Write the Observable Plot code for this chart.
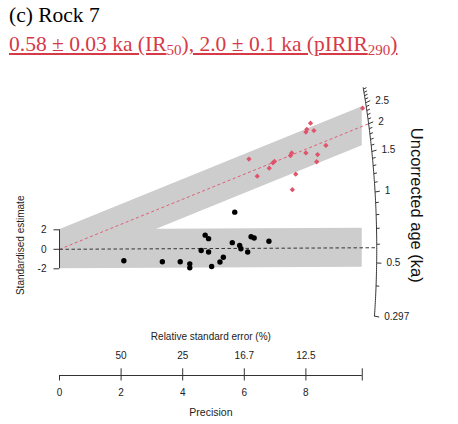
<!DOCTYPE html>
<html><head><meta charset="utf-8">
<script src="https://cdn.jsdelivr.net/npm/d3@7"></script>
<script src="https://cdn.jsdelivr.net/npm/@observablehq/plot@0.6"></script>
<style>
body{margin:0;background:#fff;width:458px;height:424px;overflow:hidden;position:relative}
#t1{position:absolute;left:9px;top:5px;font:21.5px "Liberation Serif","Times New Roman",serif;line-height:1;color:#000;white-space:nowrap}
#t2{position:absolute;left:9px;top:34px;font:21.5px "Liberation Serif","Times New Roman",serif;line-height:1;color:#d63a48;text-decoration:underline;white-space:nowrap}
#t2 sub{font-size:70%;vertical-align:-0.28em;line-height:0}
#chart{position:absolute;left:0;top:60px}
</style></head><body>
<div id="t1">(c) Rock 7</div>
<div id="t2">0.58 ± 0.03 ka (IR<sub>50</sub>), 2.0 ± 0.1 ka (pIRIR<sub>290</sub>)</div>
<div id="chart"></div>
<script>
// ---- data ----
const precisionIR50 = [2.09,3.34,3.92,4.23,4.23,4.73,4.84,4.60,4.84,4.94,5.21,5.32,5.61,5.69,5.85,5.89,6.11,6.22,6.32,6.80];
const estimateIR50  = [-1.18,-1.28,-1.28,-1.49,-1.90,1.45,1.09,-0.12,-0.28,-1.76,-1.30,-0.81,0.68,3.81,0.39,0.05,-0.28,1.29,1.16,0.82];
const precisionPIRIR = [6.15,6.42,6.81,6.93,6.98,7.50,7.54,7.67,7.56,8.00,8.00,8.03,8.15,8.26,8.38,8.35,8.65,9.84];
const estimatePIRIR  = [9.26,7.50,8.32,8.87,9.01,9.62,9.88,7.70,6.11,9.88,12.03,12.31,12.93,12.18,9.72,8.98,10.65,14.47];
const centralAges = [0.58, 2.0];            // ka: IR50, pIRIR290
const ageMajor = [0.5, 1, 1.5, 2, 2.5];
const ageMinor = [0.4,0.6,0.7,0.8,0.9,1.1,1.2,1.3,1.4,1.6,1.7,1.8,1.9,2.1,2.2,2.3,2.4,2.6,2.7,2.8,2.9];
const ageLimits = [0.297, 2.95];
const yTicks = [-2, 0, 2];
const precisionTicks = [0, 2, 4, 6, 8];
const rseTickPos = [2, 4, 6, 8];
const rseLabels = ["50", "25", "16.7", "12.5"];
const precisionMax = 9.83;

// ---- geometry of the radial plot ----
const KX = 30.8, KY = 9.75;          // px per unit
const X0 = 59, Y0 = 188.8;           // pixel position of origin
const Z0 = -0.56, K = 1.024, R = 10.3, F2 = 0.0323;
const slope = a => K * (Math.log(a) - Z0);
const arcPt = (a, m = 1) => { const s = slope(a); const x = m * R / Math.sqrt(1 + F2 * s * s); return {x, y: s * x}; };
const pxX = v => v / KX, pxY = v => v / KY;
const axisY = (Y0 - 315) / KY;

const ptsIR = precisionIR50.map((x, i) => ({x, y: estimateIR50[i]}));
const ptsPI = precisionPIRIR.map((x, i) => ({x, y: estimatePIRIR[i]}));
const sMin = slope(ageLimits[0]), sMax = slope(ageLimits[1]);
const arcLine = d3.range(121).map(i => {
  const s = sMin + (sMax - sMin) * i / 120;
  const x = R / Math.sqrt(1 + F2 * s * s);
  return {x, y: s * x};
});
const band = (a) => Plot.areaY([0, precisionMax], {x: d => d, y1: d => slope(a) * d - 2, y2: d => slope(a) * d + 2, fill: "#cdcdcd"});
const ink = "#333";
const red = "#DF536B";
const arcLabelAges = [...ageMajor, ageLimits[0]];

const chart = Plot.plot({
  width: 458, height: 364,
  marginLeft: 0, marginRight: 0, marginTop: 0, marginBottom: 0,
  x: {domain: [0, 10], range: [X0, X0 + 10 * KX], axis: null},
  y: {domain: [0, 10], range: [Y0, Y0 - 10 * KY], axis: null},
  style: {fontFamily: "'Liberation Sans', Arial, sans-serif", fontSize: "10px", color: "#222", background: "#fff"},
  marks: [
    band(centralAges[1]),
    band(centralAges[0]),
    Plot.link([centralAges[1]], {x1: 0, y1: 0, x2: a => arcPt(a).x, y2: a => arcPt(a).y, stroke: red, strokeWidth: 0.9, strokeDasharray: "3,2.5"}),
    Plot.link([centralAges[0]], {x1: 0, y1: 0, x2: a => arcPt(a).x, y2: a => arcPt(a).y, stroke: "#222", strokeWidth: 0.9, strokeDasharray: "3.5,2.5"}),
    // radial (age) axis
    Plot.line(arcLine, {x: "x", y: "y", stroke: ink, strokeWidth: 1}),
    Plot.link(arcLabelAges, {x1: a => arcPt(a).x, y1: a => arcPt(a).y, x2: a => arcPt(a, 1.015).x, y2: a => arcPt(a, 1.015).y, stroke: ink}),
    Plot.link(ageMinor, {x1: a => arcPt(a).x, y1: a => arcPt(a).y, x2: a => arcPt(a, 1.01).x, y2: a => arcPt(a, 1.01).y, stroke: ink}),
    Plot.text(arcLabelAges, {x: a => arcPt(a, 1.015).x, y: a => arcPt(a, 1.015).y, text: a => String(a), dx: 5, textAnchor: "start", fill: "#222"}),
    Plot.text(["Uncorrected age (ka)"], {x: 0, y: 0, dx: 357, dy: -44, rotate: 90, fontSize: 16.5, fill: "#111"}),
    // standardised estimate axis
    Plot.ruleX([0], {y1: -2, y2: 2, stroke: ink}),
    Plot.ruleY(yTicks, {x1: -pxX(5.5), x2: 0, stroke: ink}),
    Plot.text(yTicks, {x: 0, y: d => d, text: d => String(d), dx: -13, textAnchor: "end", fill: "#222"}),
    Plot.text(["Standardised estimate"], {x: 0, y: 0, dx: -39, dy: -4, rotate: -90, fill: "#222"}),
    // precision / relative standard error axis
    Plot.ruleY([axisY], {x1: 0, x2: precisionMax, stroke: ink}),
    Plot.ruleX([...precisionTicks, precisionMax], {y1: axisY, y2: axisY - pxY(5.5), stroke: ink}),
    Plot.ruleX([...rseTickPos, precisionMax], {y1: axisY, y2: axisY + pxY(6.7), stroke: ink}),
    Plot.text(precisionTicks, {x: d => d, y: axisY, dy: 17.7, text: d => String(d), fill: "#222"}),
    Plot.text(rseTickPos, {x: d => d, y: axisY, dy: -20, text: (d, i) => rseLabels[i], fill: "#222"}),
    Plot.text(["Relative standard error (%)"], {x: precisionMax / 2, y: axisY, dy: -39, fill: "#222"}),
    Plot.text(["Precision"], {x: precisionMax / 2, y: axisY, dy: 36.7, fontSize: 10.5, fill: "#222"}),
    // data points
    Plot.dot(ptsIR, {x: "x", y: "y", r: 2.7, fill: "#000"}),
    Plot.dot(ptsPI, {x: "x", y: "y", r: 2.1, symbol: "square", rotate: 45, fill: red})
  ]
});
document.getElementById("chart").appendChild(chart);
</script></body></html>
